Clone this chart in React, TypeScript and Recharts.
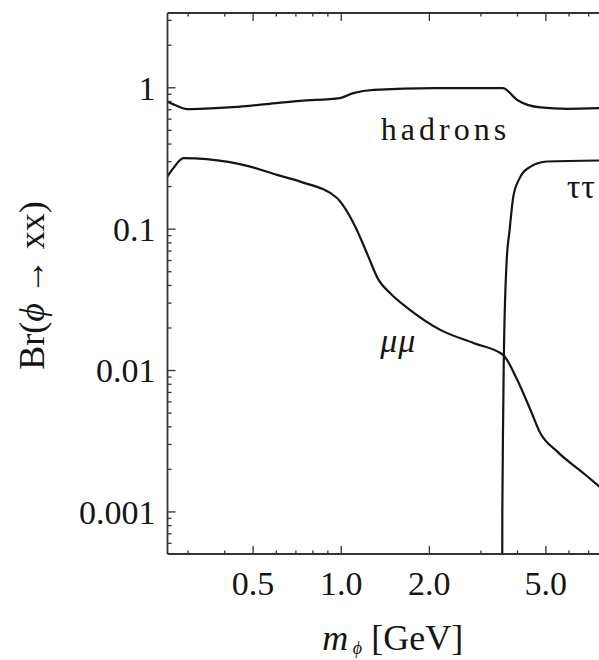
import { LineChart, Line, XAxis, YAxis, ReferenceDot } from 'recharts'

// hadrons
const hadronsMass = [0.255, 0.274, 0.297, 0.329, 0.427, 0.557, 0.724, 0.99, 1.1, 1.29, 2.07, 3.56, 3.99, 4.79, 5.92, 7.8]
const hadronsBr = [0.8, 0.746, 0.707, 0.71, 0.73, 0.767, 0.809, 0.846, 0.917, 0.968, 0.995, 0.995, 0.82, 0.726, 0.71, 0.718]

// mu mu
const mumuMass = [0.255, 0.267, 0.289, 0.347, 0.489, 0.603, 0.724, 0.967, 1.02, 1.117, 1.224, 1.341, 1.47, 1.72, 2.18, 2.84, 3.57, 3.99, 4.43, 4.79, 5.47, 6.74, 7.8]
const mumuBr = [0.236, 0.27, 0.318, 0.313, 0.277, 0.242, 0.217, 0.166, 0.145, 0.104, 0.0676, 0.0438, 0.0352, 0.0268, 0.0194, 0.0156, 0.0129, 0.0086, 0.00526, 0.0036, 0.00267, 0.00187, 0.00145]

// tau tau
const tautauMass = [3.545, 3.55, 3.575, 3.59, 3.67, 3.76, 3.87, 4.04, 4.43, 5.05, 7.8]
const tautauBr = [0.0001, 0.001, 0.005, 0.0113, 0.0575, 0.099, 0.17, 0.223, 0.277, 0.301, 0.306]

const xMajorTicks = [0.5, 1, 2, 5]
const xTickLabels = ['0.5', '1.0', '2.0', '5.0']
const xMinorTicks = [0.3, 0.4, 0.6, 0.7, 0.8, 0.9, 3, 4, 6, 7, 8, 9]

const yMajorTicks = [0.001, 0.01, 0.1, 1]
const yTickLabels = ['0.001', '0.01', '0.1', '1']
const yMinorTicks = [
  0.0006, 0.0007, 0.0008, 0.0009,
  0.002, 0.003, 0.004, 0.005, 0.006, 0.007, 0.008, 0.009,
  0.02, 0.03, 0.04, 0.05, 0.06, 0.07, 0.08, 0.09,
  0.2, 0.3, 0.4, 0.5, 0.6, 0.7, 0.8, 0.9,
  2, 3,
]

const labelText = ['hadrons', 'μμ', 'ττ']
const labelMass = [2.27, 1.567, 5.89]
const labelBr = [0.428, 0.01354, 0.1665]

const toPoints = (xs: number[], ys: number[]) => xs.map((m, i) => ({ m, br: ys[i] }))
const hadrons = toPoints(hadronsMass, hadronsBr)
const mumu = toPoints(mumuMass, mumuBr)
const tautau = toPoints(tautauMass, tautauBr)

const xTicks = [...xMajorTicks, ...xMinorTicks].sort((a, b) => a - b)
const yTicks = [...yMajorTicks, ...yMinorTicks].sort((a, b) => a - b)

const FONT = '"Liberation Serif", "DejaVu Serif", serif'
const INK = '#151515'
const FRAME = '#333'

function BottomTick({ x, y, payload }: any) {
  const i = xMajorTicks.indexOf(payload.value)
  const len = i >= 0 ? 8 : 3.5
  return (
    <g>
      <line x1={x} x2={x} y1={y} y2={y - len} stroke={FRAME} strokeWidth={1.3} />
      {i >= 0 && (
        <text x={x} y={y + 41} textAnchor="middle" fontFamily={FONT} fontSize={34} fill={INK}>
          {xTickLabels[i]}
        </text>
      )}
    </g>
  )
}

function TopTick({ x, y, payload }: any) {
  const len = xMajorTicks.includes(payload.value) ? 8 : 3.5
  return <line x1={x} x2={x} y1={y} y2={y + len} stroke={FRAME} strokeWidth={1.3} />
}

function LeftTick({ x, y, payload }: any) {
  const i = yMajorTicks.indexOf(payload.value)
  const len = i >= 0 ? 8 : 4
  return (
    <g>
      <line x1={x} x2={x + len} y1={y} y2={y} stroke={FRAME} strokeWidth={1.3} />
      {i >= 0 && (
        <text x={x - 12} y={y} dy="0.35em" textAnchor="end" fontFamily={FONT} fontSize={34} fill={INK}>
          {yTickLabels[i]}
        </text>
      )}
    </g>
  )
}

function XTitle({ viewBox }: any) {
  const cx = viewBox.x + viewBox.width / 2 - 8
  return (
    <text x={cx} y={viewBox.y + 96} textAnchor="middle" fontFamily={FONT} fontSize={36} fill={INK}>
      <tspan fontStyle="italic">m</tspan>
      <tspan fontStyle="italic" fontSize={18} dy={4}> ϕ</tspan>
      <tspan dy={-4}> [GeV]</tspan>
    </text>
  )
}

function YTitle({ viewBox }: any) {
  const cy = viewBox.y + viewBox.height / 2 + 2
  const x = 44
  return (
    <text x={x} y={cy} transform={`rotate(-90, ${x}, ${cy})`} textAnchor="middle" fontFamily={FONT} fontSize={36} fill={INK}>
      Br(<tspan fontStyle="italic">ϕ</tspan> → xx)
    </text>
  )
}

function curveLabel(i: number) {
  return ({ viewBox }: any) => (
    <text
      x={viewBox.x}
      y={viewBox.y}
      textAnchor={i === 2 ? 'start' : 'middle'}
      fontFamily={FONT}
      fontSize={i === 0 ? 32 : 34}
      fontStyle={i === 1 ? 'italic' : 'normal'}
      letterSpacing={i === 0 ? 4 : 1}
      fill={INK}
    >
      {labelText[i]}
    </text>
  )
}

export default function App() {
  return (
    <div style={{ position: 'absolute', left: 0, top: 0, width: 599, height: 660, overflow: 'hidden', background: '#fff' }}>
      <LineChart width={634} height={660} margin={{ top: 0, right: 0, bottom: 0, left: 0 }}>
        <XAxis
          dataKey="m"
          type="number"
          scale="log"
          domain={[0.255, 10]}
          allowDataOverflow
          ticks={xTicks}
          interval={0}
          tickSize={0}
          tickMargin={0}
          tickLine={false}
          tick={<BottomTick />}
          height={106}
          axisLine={{ stroke: FRAME, strokeWidth: 1.8 }}
          label={{ content: XTitle }}
        />
        <XAxis
          xAxisId="top"
          orientation="top"
          dataKey="m"
          type="number"
          scale="log"
          domain={[0.255, 10]}
          allowDataOverflow
          ticks={xTicks}
          interval={0}
          tickSize={0}
          tickMargin={0}
          tickLine={false}
          tick={<TopTick />}
          height={13}
          axisLine={{ stroke: FRAME, strokeWidth: 1.8 }}
        />
        <YAxis
          type="number"
          scale="log"
          domain={[0.000504, 3.38]}
          allowDataOverflow
          ticks={yTicks}
          interval={0}
          tickSize={0}
          tickMargin={0}
          tickLine={false}
          tick={<LeftTick />}
          width={167.5}
          axisLine={{ stroke: FRAME, strokeWidth: 1.8 }}
          label={{ content: YTitle }}
        />
        <Line data={hadrons} dataKey="br" type="monotone" stroke={INK} strokeWidth={2.2} dot={false} isAnimationActive={false} />
        <Line data={mumu} dataKey="br" type="monotone" stroke={INK} strokeWidth={2.2} dot={false} isAnimationActive={false} />
        <Line data={tautau} dataKey="br" type="monotone" stroke={INK} strokeWidth={2.2} dot={false} isAnimationActive={false} />
        {labelText.map((_, i) => (
          <ReferenceDot key={i} x={labelMass[i]} y={labelBr[i]} r={0} fill="none" stroke="none" label={{ content: curveLabel(i) }} />
        ))}
      </LineChart>
    </div>
  )
}
